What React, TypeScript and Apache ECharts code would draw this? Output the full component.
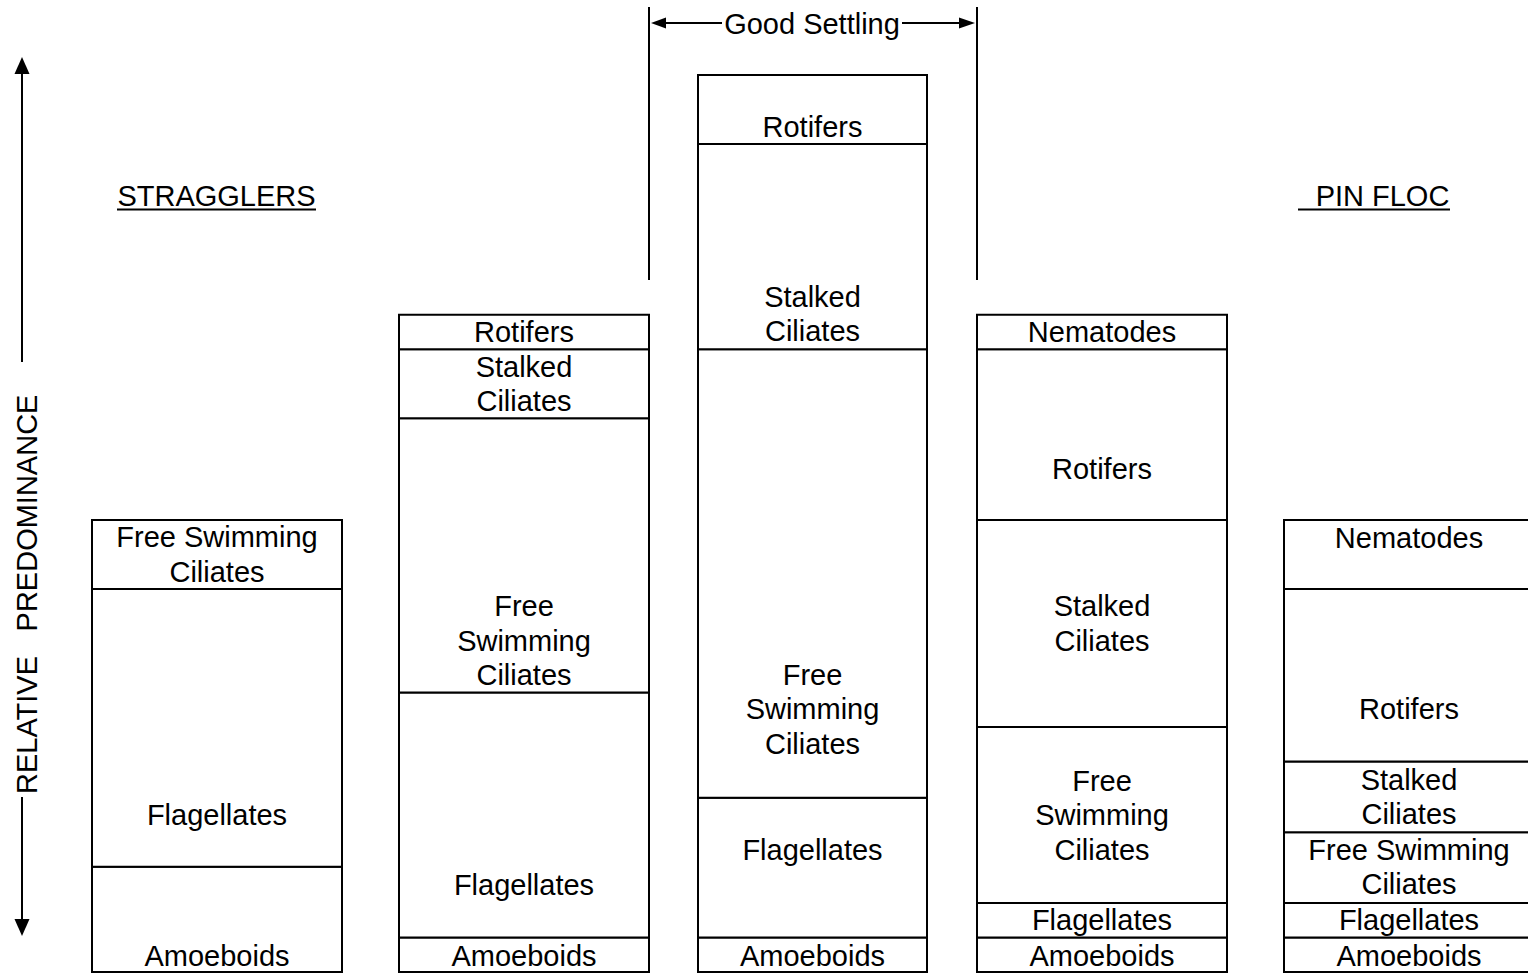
import React, { useEffect, useRef } from "react";
import * as echarts from "echarts";

// Column groups (left to right along the settling scale)
const columnNames = ["Stragglers", "Transition A", "Good Settling", "Transition B", "Pin Floc"];
// Horizontal extent of each column on the x scale
const columnStart = [92, 399, 698, 977, 1284];
const columnEnd = [342, 649, 927, 1227, 1534];

// Organism layers per column (bottom to top) and their relative predominance (units)
const col1Names = ["Amoeboids", "Flagellates", "Free Swimming\nCiliates"];
const col1Values = [3.05, 8.05, 2.0];
const col2Names = ["Amoeboids", "Flagellates", "Free\nSwimming\nCiliates", "Stalked\nCiliates", "Rotifers"];
const col2Values = [1, 7.1, 7.95, 2.0, 1.0];
const col3Names = ["Amoeboids", "Flagellates", "Free\nSwimming\nCiliates", "Stalked\nCiliates", "Rotifers"];
const col3Values = [1, 4.05, 13, 5.95, 2];
const col4Names = ["Amoeboids", "Flagellates", "Free\nSwimming\nCiliates", "Stalked\nCiliates", "Rotifers", "Nematodes"];
const col4Values = [1, 1, 5.1, 6, 4.95, 1];
const col5Names = ["Amoeboids", "Flagellates", "Free Swimming\nCiliates", "Stalked\nCiliates", "Rotifers", "Nematodes"];
const col5Values = [1, 1, 2.05, 2.05, 5, 2];

// Where each label sits inside its layer (in predominance units)
const col1LabelAt = [0.45, 4.55, 12.1];
const col2LabelAt = [0.45, 2.52, 9.6, 17.04, 18.55];
const col3LabelAt = [0.45, 3.54, 7.62, 19.07, 24.49];
const col4LabelAt = [0.45, 1.5, 4.55, 10.1, 14.58, 18.55];
const col5LabelAt = [0.45, 1.5, 3.04, 5.07, 7.62, 12.58];

const allNames = [col1Names, col2Names, col3Names, col4Names, col5Names];
const allValues = [col1Values, col2Values, col3Values, col4Values, col5Values];
const allLabelAt = [col1LabelAt, col2LabelAt, col3LabelAt, col4LabelAt, col5LabelAt];

const FONT = '"Liberation Sans", Arial, Helvetica, sans-serif';

export default function App() {
  const ref = useRef<HTMLDivElement>(null);

  useEffect(() => {
    if (!ref.current) return;
    const chart = echarts.init(ref.current, undefined, { renderer: "svg" });

    const segData: any[] = [];
    const segLabels: string[] = [];
    allValues.forEach((vals, c) => {
      let base = 0;
      vals.forEach((v, i) => {
        segData.push({
          name: columnNames[c] + " - " + allNames[c][i].replace(/\n/g, " "),
          value: [columnStart[c], columnEnd[c], base, base + v, allLabelAt[c][i]],
        });
        segLabels.push(allNames[c][i]);
        base += v;
      });
    });

    const textStyle = (text: string) => ({
      text,
      fill: "#000",
      fontSize: 29,
      fontFamily: FONT,
      align: "center",
      verticalAlign: "middle",
    });

    const lw = 2;
    const option: any = {
      animation: false,
      backgroundColor: "#fff",
      grid: { left: 0, right: 0, top: 6, bottom: 1, containLabel: false },
      xAxis: { type: "value", min: 0, max: 1528, show: false },
      yAxis: { type: "value", min: 0, max: 28, show: false },
      series: [
        {
          type: "custom",
          clip: false,
          data: segData,
          renderItem: (params: any, api: any) => {
            const x0 = api.value(0);
            const x1 = api.value(1);
            const y0 = api.value(2);
            const y1 = api.value(3);
            const ly = api.value(4);
            const p0 = api.coord([x0, y1]);
            const p1 = api.coord([x1, y0]);
            const pl = api.coord([x0, ly]);
            return {
              type: "group",
              children: [
                {
                  type: "rect",
                  shape: { x: p0[0], y: p0[1], width: p1[0] - p0[0], height: p1[1] - p0[1] },
                  style: { fill: "#fff", stroke: "#000", lineWidth: lw },
                },
                {
                  type: "text",
                  x: (p0[0] + p1[0]) / 2,
                  y: pl[1],
                  style: { ...textStyle(segLabels[params.dataIndex]), lineHeight: 34.5 },
                },
              ],
            };
          },
        },
      ],
      graphic: [
        // Good Settling bracket
        { type: "line", shape: { x1: 649, y1: 7, x2: 649, y2: 280 }, style: { stroke: "#000", lineWidth: lw } },
        { type: "line", shape: { x1: 977, y1: 7, x2: 977, y2: 280 }, style: { stroke: "#000", lineWidth: lw } },
        { type: "line", shape: { x1: 664, y1: 23, x2: 722, y2: 23 }, style: { stroke: "#000", lineWidth: lw } },
        { type: "polygon", shape: { points: [[651, 23], [666, 17.5], [666, 28.5]] }, style: { fill: "#000" } },
        { type: "line", shape: { x1: 902, y1: 23, x2: 961, y2: 23 }, style: { stroke: "#000", lineWidth: lw } },
        { type: "polygon", shape: { points: [[975, 23], [959, 17.5], [959, 28.5]] }, style: { fill: "#000" } },
        { type: "text", x: 812, y: 24, style: textStyle("Good Settling") },
        // STRAGGLERS
        { type: "text", x: 216.5, y: 196, style: textStyle("STRAGGLERS") },
        { type: "line", shape: { x1: 117, y1: 209.5, x2: 316, y2: 209.5 }, style: { stroke: "#000", lineWidth: 2 } },
        // PIN FLOC
        { type: "text", x: 1382.5, y: 196, style: textStyle("PIN FLOC") },
        { type: "line", shape: { x1: 1298, y1: 209.5, x2: 1450, y2: 209.5 }, style: { stroke: "#000", lineWidth: 2 } },
        // Relative predominance axis
        { type: "line", shape: { x1: 22, y1: 72, x2: 22, y2: 362 }, style: { stroke: "#000", lineWidth: lw } },
        { type: "polygon", shape: { points: [[22, 57], [14.5, 74], [29.5, 74]] }, style: { fill: "#000" } },
        { type: "line", shape: { x1: 22, y1: 797, x2: 22, y2: 921 }, style: { stroke: "#000", lineWidth: lw } },
        { type: "polygon", shape: { points: [[22, 936], [14.5, 919], [29.5, 919]] }, style: { fill: "#000" } },
        { type: "text", x: 27, y: 725, rotation: Math.PI / 2, style: textStyle("RELATIVE") },
        { type: "text", x: 27, y: 513, rotation: Math.PI / 2, style: textStyle("PREDOMINANCE") },
      ],
    };

    chart.setOption(option);
    return () => chart.dispose();
  }, []);

  return (
    <div
      ref={ref}
      style={{ position: "absolute", left: 0, top: 0, width: 1528, height: 973 }}
    />
  );
}
